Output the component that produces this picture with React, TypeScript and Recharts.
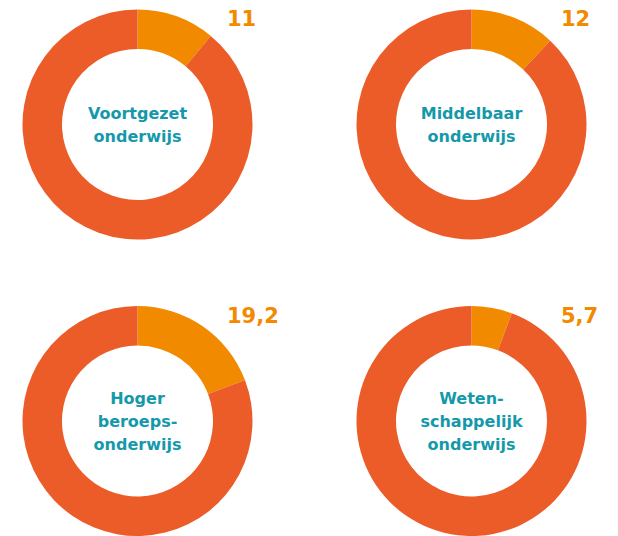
import { PieChart, Pie, Cell, Label } from "recharts"

const categories = [
  ["Voortgezet", "onderwijs"],
  ["Middelbaar", "onderwijs"],
  ["Hoger", "beroeps-", "onderwijs"],
  ["Weten-", "schappelijk", "onderwijs"],
]
const shares = [11, 12, 19.2, 5.7]
const shareLabels = ["11", "12", "19,2", "5,7"]

const centers = [
  { cx: 137.5, cy: 124.5 },
  { cx: 471.5, cy: 124.5 },
  { cx: 137.5, cy: 421 },
  { cx: 471.5, cy: 421 },
]

const FONT = "'DejaVu Sans', Verdana, sans-serif"
const ORANGE = "#f28a00"
const RED = "#eb5c29"
const TEAL = "#1499aa"

export default function App() {
  return (
    <div style={{ position: "absolute", left: 0, top: 0 }}>
      <PieChart width={618} height={536} margin={{ top: 0, right: 0, bottom: 0, left: 0 }}>
        {shares.map((v, i) => {
          const rows = [
            { name: "share", value: v },
            { name: "rest", value: 100 - v },
          ]
          const lines = categories[i]
          return (
            <Pie
              key={i}
              data={rows}
              dataKey="value"
              cx={centers[i].cx}
              cy={centers[i].cy}
              innerRadius={75.5}
              outerRadius={115}
              startAngle={90}
              endAngle={-270}
              stroke="none"
              isAnimationActive={false}
              labelLine={false}
              label={(p: any) =>
                p.index === 0 ? (
                  <text
                    x={p.cx + 89.5}
                    y={p.cy - 98.5}
                    fill={ORANGE}
                    fontFamily={FONT}
                    fontWeight="bold"
                    fontSize={21}
                    textAnchor="start"
                  >
                    {shareLabels[i]}
                  </text>
                ) : null
              }
            >
              <Cell fill={ORANGE} />
              <Cell fill={RED} />
              <Label
                position="center"
                content={(lp: any) => {
                  const vb = lp.viewBox || {}
                  const cx = vb.cx ?? centers[i].cx
                  const cy = vb.cy ?? centers[i].cy
                  return (
                    <text
                      x={cx}
                      fill={TEAL}
                      fontFamily={FONT}
                      fontWeight="bold"
                      fontSize={16}
                      textAnchor="middle"
                    >
                      {lines.map((t, j) => (
                        <tspan
                          key={j}
                          x={cx}
                          y={cy + (j - (lines.length - 1) / 2) * 23.3 + 6}
                        >
                          {t}
                        </tspan>
                      ))}
                    </text>
                  )
                }}
              />
            </Pie>
          )
        })}
      </PieChart>
    </div>
  )
}
